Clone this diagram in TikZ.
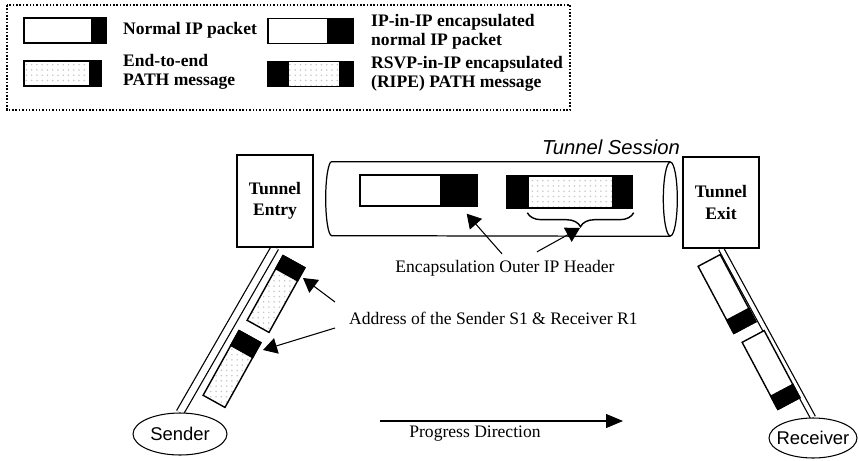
\documentclass[tikz,border=0pt]{standalone}
\usepackage{fontspec}
\setmainfont{Liberation Serif}
\setsansfont{Liberation Sans}
\usetikzlibrary{arrows.meta, positioning, shapes.geometric, calc, patterns, backgrounds, decorations.pathreplacing}

\begin{document}
\begin{tikzpicture}[
        x=0.02cm, y=-0.02cm,
        font=\fontsize{10}{11}\selectfont,
        every node/.style = {align=center},
        pkt/.style  = {rectangle, draw=black, line width=0.8pt, fill=white,
                       inner sep=0pt, minimum height=0.5cm},
        stip/.style = {pattern=dots, pattern color=black!22},
        hdr/.style  = {rectangle, draw=black, fill=black, line width=0.8pt,
                       inner sep=0pt, minimum height=0.5cm},
        endpt/.style = {rectangle, draw=black, line width=0.6pt, fill=white,
                        minimum width=1.52cm, font=\fontsize{10}{12}\selectfont\bfseries},
        host/.style = {ellipse, draw=black, line width=0.6pt, fill=white,
                       minimum width=1.88cm, minimum height=0.84cm, inner sep=0pt,
                       font=\sffamily\fontsize{10.5}{12}\selectfont},
        key/.style  = {anchor=west, align=left, font=\fontsize{10}{11}\selectfont\bfseries},
        tube/.style = {draw=black, line width=0.7pt},
        link/.style = {double distance=0.13cm, line width=0.7pt},
        arrow/.style = {-{Triangle[length=0.28cm, width=0.32cm]}, line width=0.6pt}
    ]
    \useasboundingbox (0,0) rectangle (859,460);

    % --- Legend ---
    \draw[densely dotted, line width=0.9pt] (7,5) rectangle (570,110);
    \node[pkt, minimum width=1.64cm] (lgnormal) at (65,30.5) {};
    \node[hdr, minimum width=0.28cm, anchor=east] at (lgnormal.east) {};
    \node[key] (lgnormaltxt) at (117,30) {Normal IP packet};

    \node[pkt, minimum width=1.70cm] (lgipip) at (310.5,31) {};
    \node[hdr, minimum width=0.50cm, anchor=east] at (lgipip.east) {};
    \node[key] (lgipiptxt) at (365,32) {IP-in-IP encapsulated\\normal IP packet};

    \node[pkt, stip, minimum width=1.54cm] (lgpath) at (62.5,73.5) {};
    \node[hdr, minimum width=0.22cm, anchor=east] at (lgpath.east) {};
    \node[key] (lgpathtxt) at (117,72) {End-to-end\\PATH message};

    \node[pkt, stip, minimum width=1.70cm] (lgripe) at (310.5,74) {};
    \node[hdr, minimum width=0.40cm, anchor=west] at (lgripe.west) {};
    \node[hdr, minimum width=0.26cm, anchor=east] at (lgripe.east) {};
    \node[key] (lgripetxt) at (365,74) {RSVP-in-IP encapsulated\\(RIPE) PATH message};

    % --- Tunnel between entry and exit ---
    \node[minimum width=6.76cm, minimum height=1.48cm, inner sep=0pt] (tunnel) at (501,199) {};
    \draw[tube] (tunnel.north east) -- (tunnel.north west)
        arc[start angle=90, end angle=270, x radius=0.12cm, y radius=0.74cm]
        -- (tunnel.south east);
    \draw[tube] (tunnel.east) ellipse[x radius=0.14cm, y radius=0.74cm];
    \node[font=\sffamily\itshape\fontsize{11.5}{13}\selectfont] (session) at (611,147) {Tunnel Session};

    \node[endpt, minimum height=1.84cm] (tentry) at (275,201) {Tunnel\\Entry};
    \node[endpt, minimum height=1.82cm] (texit)  at (721,202.5) {Tunnel\\Exit};

    \node[pkt, minimum width=2.34cm, minimum height=0.62cm] (tp1) at (418.5,190.5) {};
    \node[hdr, minimum width=0.72cm, minimum height=0.62cm, anchor=east] at (tp1.east) {};
    \node[pkt, stip, minimum width=2.50cm, minimum height=0.64cm] (tp2) at (569.5,192) {};
    \node[hdr, minimum width=0.42cm, minimum height=0.64cm, anchor=west] at (tp2.west) {};
    \node[hdr, minimum width=0.38cm, minimum height=0.64cm, anchor=east] at (tp2.east) {};
    \draw[decorate, decoration={brace, amplitude=0.28cm}, line width=0.8pt]
        ($(tp2.south east)+(1,4)$) -- ($(tp2.south west)+(21,4)$);
    \coordinate (brtip) at (580,228);

    \node (encap) at (505,268) {Encapsulation Outer IP Header};
    \draw[arrow] ($(encap.north)+(-3,0)$) -- ($(tp1.south east)+(-11,7)$);
    \draw[arrow] ($(encap.north)+(32,-2)$) -- (brtip);

    % --- Sender and receiver ---
    \node[host] (sender) at (180,434) {\makebox[0pt]{Sender}};
    \node[host, minimum width=1.76cm, minimum height=0.8cm] (receiver) at (813,438) {\makebox[0pt]{Receiver}};

    \begin{pgfonlayer}{background}
        \draw[link] (tentry.south) -- (sender.north);
        \draw[link, double distance=0.08cm] (texit.south) -- (receiver.north);
    \end{pgfonlayer}

    % PATH messages on the way in
    \node[pkt, stip, minimum width=1.48cm, rotate=61] (sp1) at (276,294) {};
    \node[hdr, minimum width=0.30cm, rotate=61, anchor=east] at (sp1.east) {};
    \node[pkt, stip, minimum width=1.48cm, rotate=61] (sp2) at (232,369) {};
    \node[hdr, minimum width=0.34cm, rotate=61, anchor=east] at (sp2.east) {};

    % PATH messages on the way out
    \node[pkt, minimum width=1.52cm, rotate=-62] (rp1) at (727,294) {};
    \node[hdr, minimum width=0.30cm, rotate=-62, anchor=east] at (rp1.east) {};
    \node[pkt, minimum width=1.52cm, rotate=-62] (rp2) at (771,370) {};
    \node[hdr, minimum width=0.30cm, rotate=-62, anchor=east] at (rp2.east) {};

    \node[anchor=west] (addr) at (343,318) {Address of the Sender S1 \& Receiver R1};
    \draw[arrow] ($(addr.west)+(-8,-16)$) -- ($(sp1.center)+(27,-16)$);
    \draw[arrow] ($(addr.west)+(-8,10)$) -- ($(sp2.center)+(31,-19)$);

    % --- Direction of travel ---
    \coordinate (pfrom) at (380,421);
    \coordinate (pto)   at (623,421);
    \draw[-{Triangle[length=0.34cm, width=0.28cm]}, line width=0.6pt] (pfrom) -- (pto);
    \node (progress) at (475,434) {Progress Direction};

\end{tikzpicture}
\end{document}
